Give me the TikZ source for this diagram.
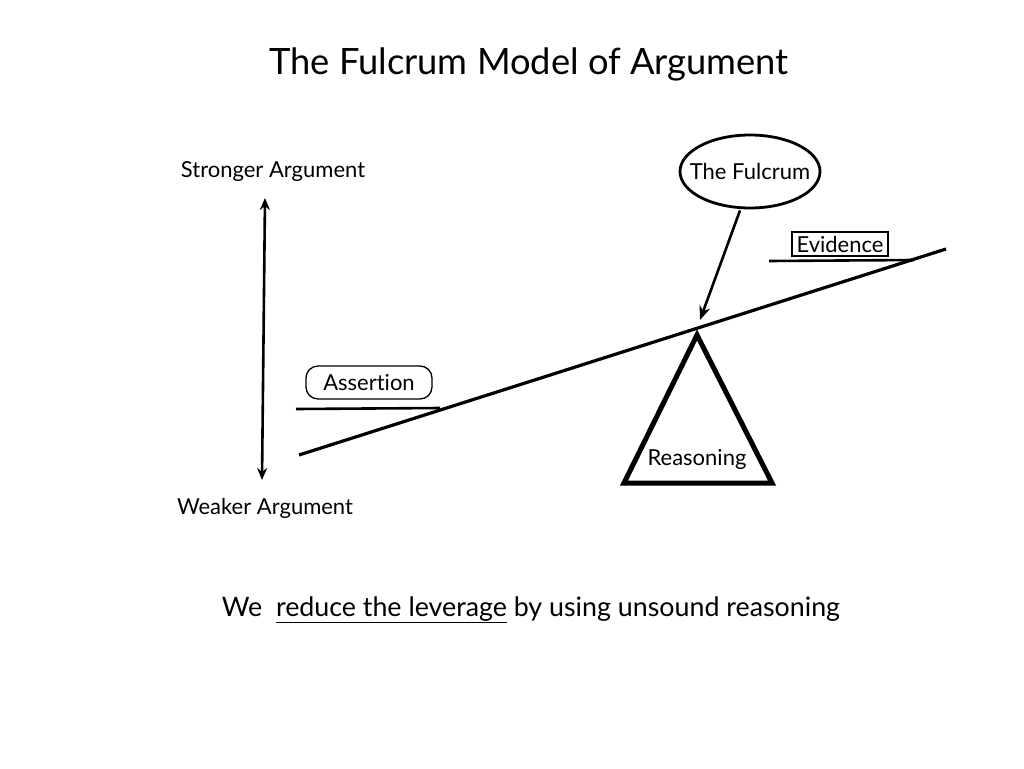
\documentclass[tikz,border=0pt]{standalone}
\usepackage{fontspec}
\setmainfont[Ligatures={NoCommon,NoRare}]{Lato}
\usetikzlibrary{shapes.geometric,arrows.meta}
\begin{document}
\begin{tikzpicture}[x=1pt,y=-1pt,
  thick line/.style={line width=3.2pt},
  lbl/.style={font=\fontsize{22}{26}\selectfont, inner sep=0pt},
  ]
\useasboundingbox (0,0) rectangle (1024,768);
\fill[white] (0,0) rectangle (1024,768);
\node[font=\fontsize{36.3}{42}\selectfont, inner sep=0pt] (title) at (529,64) {The Fulcrum Model of Argument};
\node[lbl] (strong) at (273,172) {Stronger Argument};
\node[lbl] (weak) at (265,508) {Weaker Argument};
\coordinate (atop) at (265,198);
\coordinate (abot) at (262,480);
\draw[line width=2.6pt, {Stealth[length=12pt,width=10pt]}-{Stealth[length=12pt,width=10pt]}] (atop) -- (abot);
% lever
\coordinate (lev1) at (299,455);
\coordinate (lev2) at (946,249);
\draw[thick line] (lev1) -- (lev2);
% assertion
\coordinate (as1) at (296,409);
\coordinate (as2) at (440,408);
\draw[line width=2.6pt] (as1) -- (as2);
\node[draw, line width=1.3pt, rounded corners=12pt, minimum width=126pt, minimum height=33pt, lbl] (assert) at (369,382.5) {Assertion};
% evidence
\coordinate (ev1) at (769,261);
\coordinate (ev2) at (914,260);
\draw[line width=2.6pt] (ev1) -- (ev2);
\node[draw, line width=1.3pt, minimum width=96pt, minimum height=24pt, lbl] (evid) at (840,244) {Evidence};
% fulcrum
\node[draw, ellipse, line width=2.8pt, minimum width=140pt, minimum height=73pt, inner sep=0pt] (fulc) at (750,171.5) {};
\node[lbl] (fulctext) at (fulc.center) {The Fulcrum};
\coordinate (tip) at (700,320);
\draw[line width=2.6pt, -{Stealth[length=14pt,width=11pt]}] (fulc.south) ++(-10,1) coordinate (fs) (fs) -- (tip);
% triangle
\coordinate (apex) at (697,335);
\coordinate (bl) at (624,483);
\coordinate (br) at (772,483);
\draw[line width=5pt, line join=miter] (apex) -- (bl) -- (br) -- cycle;
\node[lbl] (reason) at (697,459) {Reasoning};
% bottom
\node[font=\fontsize{26.8}{32}\selectfont, inner sep=0pt, anchor=base] (bottom) at (531,616) {We\ \ \underline{reduce the leverage} by using unsound reasoning};
\end{tikzpicture}
\end{document}
